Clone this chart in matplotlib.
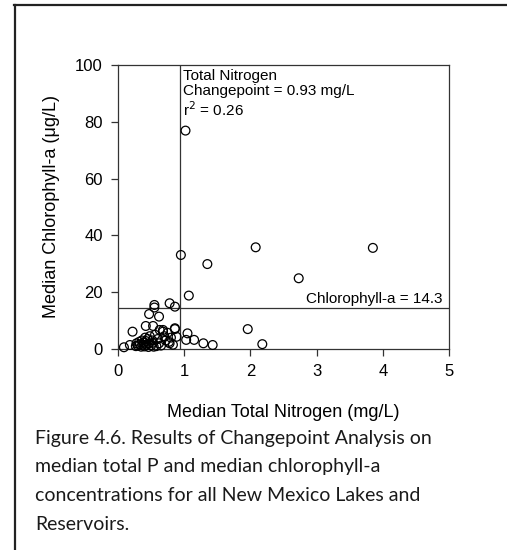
import matplotlib.pyplot as plt
from matplotlib.lines import Line2D

# Median total nitrogen (mg/L) and median chlorophyll-a (ug/L) per lake
tn = [0.09, 0.18, 0.22, 0.27, 0.28, 0.30, 0.32, 0.33, 0.35, 0.36,
      0.38, 0.39, 0.40, 0.41, 0.42, 0.43, 0.45, 0.46, 0.47, 0.48,
      0.50, 0.52, 0.53, 0.54, 0.56, 0.58, 0.60, 0.62, 0.63, 0.65,
      0.68, 0.70, 0.72, 0.75, 0.78, 0.80, 0.83, 0.86, 0.885, 0.42,
      0.47, 0.53, 0.55, 0.55, 0.62, 0.68, 0.78, 0.86, 0.77, 0.86,
      0.95, 1.02, 1.03, 1.05, 1.07, 1.15, 1.29, 1.35, 1.43, 1.96,
      2.08, 2.18, 2.73, 3.85]
chla = [0.6, 1.4, 6.1, 1.0, 2.0, 1.2, 2.5, 1.6, 0.8, 3.0,
        1.5, 2.2, 0.9, 4.0, 2.8, 1.5, 3.5, 0.7, 2.0, 4.5,
        1.2, 3.0, 2.2, 0.8, 5.0, 1.0, 3.5, 2.0, 6.7, 1.2,
        6.1, 4.5, 3.0, 5.7, 2.0, 4.0, 1.5, 7.3, 4.3, 8.1,
        12.3, 8.1, 15.5, 14.6, 11.4, 6.7, 16.1, 14.9, 2.5, 7.0,
        33.1, 76.9, 3.2, 5.5, 18.8, 3.2, 2.0, 29.9, 1.4, 7.0,
        35.8, 1.7, 24.9, 35.6]

tn_changepoint = 0.93
chla_threshold = 14.3
r_squared = 0.26

xticks = [0, 1, 2, 3, 4, 5]
yticks = [0, 20, 40, 60, 80, 100]

caption = ("Figure 4.6. Results of Changepoint Analysis on\n"
           "median total P and median chlorophyll-a\n"
           "concentrations for all New Mexico Lakes and\n"
           "Reservoirs.")

plt.rcParams['font.family'] = ['Liberation Sans', 'DejaVu Sans']

fig = plt.figure(figsize=(5.07, 5.5), dpi=100)
ax = fig.add_axes([0.2327, 0.3655, 0.6529, 0.5163])

axis_color = '#333333'
ax.scatter(tn, chla, s=40, facecolors='none', edgecolors='black',
           linewidths=0.9, zorder=3, clip_on=False)

# changepoint lines
ax.axvline(tn_changepoint, color=axis_color, linewidth=0.9)
ax.axhline(chla_threshold, color=axis_color, linewidth=0.9)

ax.text(tn_changepoint + 0.05, 98.5,
        f'Total Nitrogen\nChangepoint = {tn_changepoint:.2f} mg/L\n'
        f'r$^2$ = {r_squared:.2f}',
        fontsize=11, va='top', ha='left', linespacing=1.1)
ax.text(4.9, chla_threshold + 0.8, f'Chlorophyll-a = {chla_threshold}',
        fontsize=11, va='bottom', ha='right')

ax.set_xlim(0, 5)
ax.set_ylim(0, 100)
ax.set_xticks(xticks)
ax.set_yticks(yticks)
ax.tick_params(direction='out', length=5, width=0.9, color=axis_color,
               labelsize=12, pad=6)
for sp in ax.spines.values():
    sp.set_color(axis_color)
    sp.set_linewidth(0.9)

ax.set_xlabel('Median Total Nitrogen (mg/L)', fontsize=13, labelpad=18)
ax.set_ylabel('Median Chlorophyll-a (\u03bcg/L)', fontsize=13, labelpad=11)

fig.text(0.069, 0.219, caption, fontsize=14, family='Lato',
         va='top', ha='left', linespacing=1.85, color='#1a1a1a')

# page frame on top and left
fig.add_artist(Line2D([0.028, 1.0], [0.991, 0.991], color='#222222',
                      linewidth=1.6, transform=fig.transFigure))
fig.add_artist(Line2D([0.029, 0.029], [0.0, 0.991], color='#222222',
                      linewidth=1.6, transform=fig.transFigure))

fig.savefig('out.png', dpi=100)
